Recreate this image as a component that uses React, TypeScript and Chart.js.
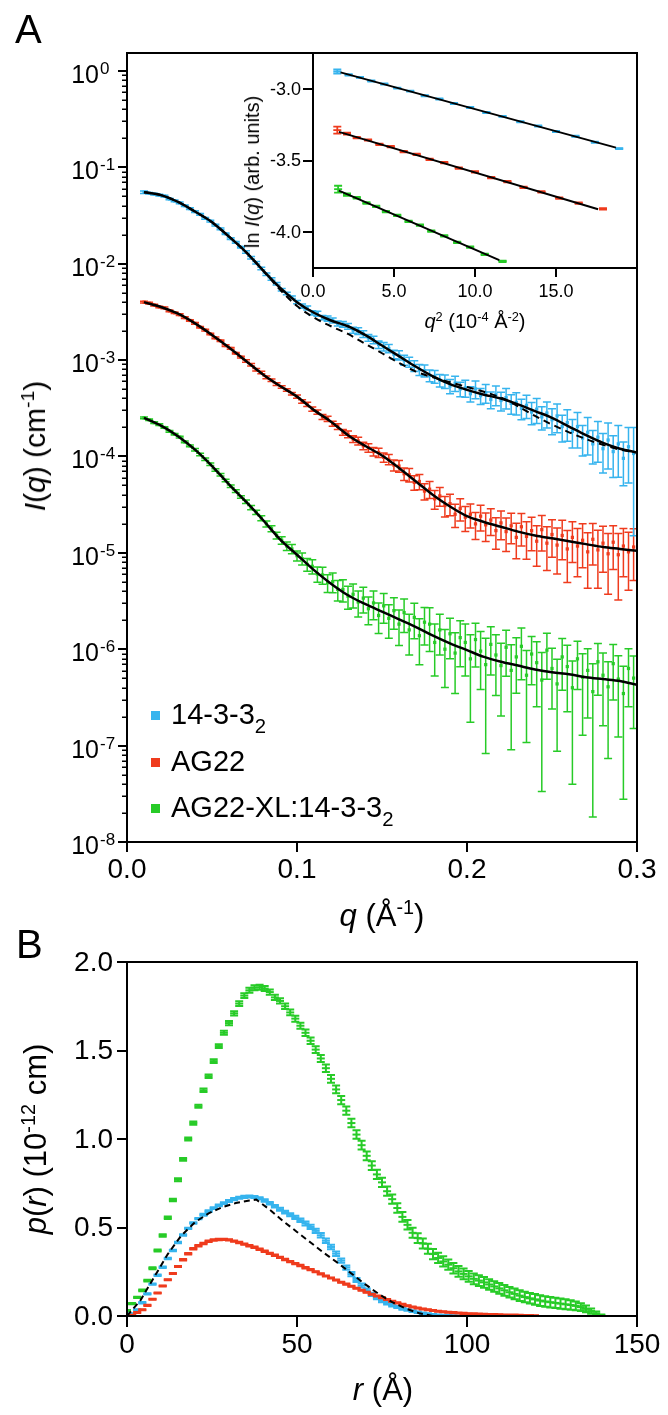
import React, { useEffect, useRef } from 'react';
import { Chart, registerables } from 'chart.js';

Chart.register(...registerables);

const FONT = '"Liberation Sans", Arial, Helvetica, sans-serif';
const BLUE = '#36B4EE';
const RED = '#EF3B1D';
const GREEN = '#27CB27';
const BLACK = '#000000';

// ---------------- Panel A : I(q), log10 values ----------------
const qA = [
  0.010, 0.013, 0.016, 0.019, 0.022, 0.025, 0.028, 0.031, 0.034, 0.037,
  0.040, 0.043, 0.046, 0.049, 0.052, 0.055, 0.058, 0.061, 0.064, 0.067,
  0.070, 0.073, 0.076, 0.079, 0.082, 0.085, 0.088, 0.091, 0.094, 0.097,
  0.100, 0.103, 0.106, 0.109, 0.112, 0.115, 0.118, 0.121, 0.124, 0.127,
  0.130, 0.133, 0.136, 0.139, 0.142, 0.145, 0.148, 0.151, 0.154, 0.157,
  0.160, 0.163, 0.166, 0.169, 0.172, 0.175, 0.178, 0.181, 0.184, 0.187,
  0.190, 0.193, 0.196, 0.199, 0.202, 0.205, 0.208, 0.211, 0.214, 0.217,
  0.220, 0.223, 0.226, 0.229, 0.232, 0.235, 0.238, 0.241, 0.244, 0.247,
  0.250, 0.253, 0.256, 0.259, 0.262, 0.265, 0.268, 0.271, 0.274, 0.277,
  0.280, 0.283, 0.286, 0.289, 0.292, 0.295, 0.298,
];
const blueLogI = [
  -1.26, -1.27, -1.28, -1.29, -1.30, -1.33, -1.35, -1.37, -1.40, -1.43,
  -1.46, -1.49, -1.53, -1.56, -1.60, -1.64, -1.69, -1.74, -1.78, -1.83,
  -1.88, -1.94, -1.99, -2.05, -2.11, -2.16, -2.21, -2.27, -2.31, -2.35,
  -2.40, -2.44, -2.46, -2.51, -2.52, -2.56, -2.57, -2.59, -2.62, -2.63,
  -2.65, -2.69, -2.70, -2.73, -2.77, -2.79, -2.84, -2.86, -2.88, -2.94,
  -2.95, -3.00, -3.02, -3.06, -3.10, -3.11, -3.16, -3.17, -3.21, -3.22,
  -3.27, -3.24, -3.30, -3.29, -3.35, -3.30, -3.37, -3.34, -3.41, -3.36,
  -3.42, -3.39, -3.45, -3.44, -3.50, -3.47, -3.54, -3.51, -3.59, -3.55,
  -3.62, -3.58, -3.69, -3.65, -3.74, -3.69, -3.81, -3.75, -3.87, -3.80,
  -3.92, -3.83, -3.95, -3.87, -4.02, -3.90, -3.97,
];
const blueRelErr = [
  0.03, 0.02, 0.02, 0.02, 0.02, 0.02, 0.02, 0.02, 0.02, 0.02,
  0.02, 0.02, 0.02, 0.02, 0.02, 0.02, 0.02, 0.02, 0.02, 0.02,
  0.03, 0.03, 0.03, 0.03, 0.03, 0.03, 0.03, 0.03, 0.03, 0.03,
  0.04, 0.05, 0.05, 0.05, 0.06, 0.05, 0.06, 0.06, 0.06, 0.07,
  0.07, 0.07, 0.08, 0.08, 0.08, 0.09, 0.09, 0.10, 0.10, 0.10,
  0.11, 0.12, 0.12, 0.13, 0.13, 0.14, 0.14, 0.15, 0.15, 0.16,
  0.17, 0.18, 0.17, 0.20, 0.18, 0.21, 0.19, 0.22, 0.20, 0.23,
  0.22, 0.24, 0.23, 0.26, 0.24, 0.27, 0.26, 0.29, 0.27, 0.30,
  0.30, 0.33, 0.31, 0.36, 0.33, 0.40, 0.35, 0.42, 0.38, 0.45,
  0.44, 0.50, 0.46, 0.55, 0.48, 0.58, 0.86,
];
const redLogI = [
  -2.40, -2.41, -2.43, -2.45, -2.46, -2.49, -2.51, -2.53, -2.56, -2.59,
  -2.62, -2.66, -2.69, -2.73, -2.77, -2.80, -2.85, -2.88, -2.93, -2.97,
  -3.01, -3.05, -3.10, -3.13, -3.18, -3.21, -3.25, -3.28, -3.31, -3.35,
  -3.38, -3.43, -3.46, -3.51, -3.54, -3.59, -3.61, -3.66, -3.69, -3.75,
  -3.77, -3.82, -3.84, -3.89, -3.91, -3.95, -3.96, -4.01, -4.03, -4.09,
  -4.10, -4.18, -4.19, -4.27, -4.26, -4.36, -4.34, -4.44, -4.41, -4.51,
  -4.49, -4.60, -4.54, -4.63, -4.60, -4.70, -4.62, -4.71, -4.66, -4.77,
  -4.69, -4.78, -4.72, -4.84, -4.73, -4.83, -4.77, -4.88, -4.76, -4.90,
  -4.81, -4.92, -4.82, -4.96, -4.84, -4.93, -4.87, -4.99, -4.86, -4.97,
  -4.90, -5.01, -4.89, -5.02, -4.93, -4.99, -4.94,
];
const redRelErr = [
  0.02, 0.02, 0.02, 0.02, 0.02, 0.02, 0.02, 0.02, 0.02, 0.02,
  0.02, 0.02, 0.02, 0.02, 0.02, 0.02, 0.02, 0.02, 0.02, 0.02,
  0.03, 0.03, 0.03, 0.03, 0.03, 0.03, 0.03, 0.03, 0.03, 0.03,
  0.04, 0.04, 0.05, 0.05, 0.05, 0.06, 0.06, 0.06, 0.07, 0.07,
  0.08, 0.08, 0.09, 0.09, 0.10, 0.10, 0.11, 0.11, 0.12, 0.13,
  0.14, 0.15, 0.16, 0.17, 0.18, 0.19, 0.20, 0.22, 0.22, 0.24,
  0.25, 0.27, 0.26, 0.29, 0.28, 0.31, 0.30, 0.33, 0.31, 0.36,
  0.33, 0.38, 0.35, 0.40, 0.37, 0.42, 0.38, 0.45, 0.40, 0.48,
  0.42, 0.50, 0.44, 0.55, 0.45, 0.52, 0.48, 0.58, 0.46, 0.60,
  0.50, 0.62, 0.48, 0.66, 0.52, 0.60, 0.55,
];
const greenLogI = [
  -3.60, -3.62, -3.65, -3.67, -3.70, -3.74, -3.77, -3.80, -3.85, -3.89,
  -3.93, -3.98, -4.03, -4.08, -4.14, -4.19, -4.25, -4.31, -4.36, -4.42,
  -4.47, -4.53, -4.58, -4.64, -4.70, -4.75, -4.82, -4.87, -4.93, -4.96,
  -5.03, -5.06, -5.12, -5.14, -5.22, -5.23, -5.31, -5.30, -5.38, -5.38,
  -5.45, -5.43, -5.51, -5.47, -5.58, -5.52, -5.65, -5.55, -5.68, -5.60,
  -5.74, -5.62, -5.80, -5.67, -5.86, -5.72, -5.74, -5.93, -5.80, -6.00,
  -5.84, -6.04, -5.88, -5.93, -6.10, -5.90, -6.02, -6.16, -5.95, -6.06,
  -6.17, -5.98, -6.22, -6.08, -5.97, -6.27, -6.05, -6.14, -6.32, -6.01,
  -6.20, -6.36, -6.08, -6.18, -6.40, -6.10, -6.29, -6.22, -6.44, -6.13,
  -6.27, -6.39, -6.15, -6.31, -6.46, -6.20, -6.30,
];
const greenRelErr = [
  0.02, 0.02, 0.02, 0.02, 0.02, 0.02, 0.02, 0.02, 0.02, 0.02,
  0.03, 0.03, 0.03, 0.03, 0.03, 0.03, 0.03, 0.03, 0.03, 0.03,
  0.04, 0.05, 0.05, 0.06, 0.07, 0.07, 0.08, 0.09, 0.10, 0.11,
  0.12, 0.14, 0.15, 0.17, 0.18, 0.20, 0.21, 0.23, 0.24, 0.26,
  0.27, 0.28, 0.30, 0.30, 0.32, 0.33, 0.35, 0.34, 0.38, 0.36,
  0.40, 0.38, 0.45, 0.40, 0.50, 0.42, 0.48, 0.55, 0.45, 0.60,
  0.45, 0.62, 0.50, 0.55, 0.78, 0.48, 0.60, 0.88, 0.52, 0.62,
  0.70, 0.50, 0.85, 0.58, 0.55, 0.80, 0.52, 0.65, 0.93, 0.50,
  0.62, 0.80, 0.55, 0.66, 0.90, 0.52, 0.75, 0.68, 0.95, 0.55,
  0.70, 0.82, 0.58, 0.75, 0.92, 0.60, 0.70,
];
const qFit = [
  0.01, 0.02, 0.03, 0.04, 0.05, 0.06, 0.07, 0.08, 0.09, 0.10,
  0.11, 0.12, 0.13, 0.14, 0.15, 0.16, 0.17, 0.18, 0.19, 0.20,
  0.21, 0.22, 0.23, 0.24, 0.25, 0.26, 0.27, 0.28, 0.29, 0.30,
];
const blueFitLogI = [
  -1.26, -1.29, -1.36, -1.46, -1.57, -1.72, -1.88, -2.07, -2.25, -2.40,
  -2.51, -2.59, -2.65, -2.74, -2.85, -2.96, -3.07, -3.17, -3.25, -3.31,
  -3.36, -3.40, -3.46, -3.53, -3.60, -3.69, -3.78, -3.86, -3.92, -3.96,
];
const blueModelLogI = [
  -1.26, -1.29, -1.36, -1.46, -1.57, -1.72, -1.88, -2.07, -2.27, -2.44,
  -2.56, -2.65, -2.73, -2.83, -2.93, -3.03, -3.12, -3.18, -3.23, -3.28,
  -3.33, -3.39, -3.48, -3.58, -3.67, -3.75, -3.82, -3.88, -3.93, -3.96,
];
const redFitLogI = [
  -2.40, -2.45, -2.52, -2.62, -2.74, -2.87, -3.01, -3.15, -3.27, -3.38,
  -3.52, -3.64, -3.78, -3.89, -3.99, -4.12, -4.26, -4.40, -4.52, -4.62,
  -4.68, -4.73, -4.78, -4.82, -4.85, -4.88, -4.91, -4.94, -4.96, -4.98,
];
const greenFitLogI = [
  -3.60, -3.68, -3.79, -3.93, -4.10, -4.29, -4.47, -4.66, -4.86, -5.02,
  -5.18, -5.32, -5.44, -5.53, -5.61, -5.69, -5.77, -5.86, -5.94, -6.01,
  -6.08, -6.13, -6.17, -6.21, -6.24, -6.26, -6.29, -6.31, -6.33, -6.37,
];
const xTicksA = [0, 0.1, 0.2, 0.3];
const xLabelsA = ['0.0', '0.1', '0.2', '0.3'];
const yExpA = [0, -1, -2, -3, -4, -5, -6, -7, -8];
const yExpLabelsA = ['0', '-1', '-2', '-3', '-4', '-5', '-6', '-7', '-8'];

// ---------------- Inset : Guinier plot ----------------
const inBlueQ2 = [1.5, 2.2, 2.9, 3.6, 4.4, 5.2, 6.0, 6.9, 7.8, 8.7, 9.7, 10.7, 11.7, 12.8, 13.9, 15.0, 16.2, 17.4, 18.9];
const inBlueLn = [-2.879, -2.902, -2.920, -2.946, -2.966, -2.995, -3.016, -3.048, -3.071, -3.103, -3.130, -3.165, -3.192, -3.230, -3.259, -3.298, -3.331, -3.372, -3.417];
const inBlueErr = [0.014, 0.005, 0.004, 0.004, 0.004, 0.004, 0.004, 0.004, 0.004, 0.004, 0.004, 0.004, 0.004, 0.004, 0.004, 0.004, 0.004, 0.004, 0.004];
const inRedQ2 = [1.5, 2.1, 2.7, 3.4, 4.1, 4.8, 5.6, 6.4, 7.2, 8.1, 9.0, 10.0, 11.0, 12.0, 13.0, 14.1, 15.2, 16.4, 17.9];
const inRedLn = [-3.288, -3.312, -3.340, -3.357, -3.387, -3.404, -3.438, -3.458, -3.492, -3.515, -3.553, -3.580, -3.620, -3.648, -3.688, -3.719, -3.762, -3.797, -3.838];
const inRedErr = [0.024, 0.007, 0.005, 0.005, 0.005, 0.005, 0.005, 0.005, 0.005, 0.005, 0.005, 0.005, 0.005, 0.005, 0.005, 0.005, 0.005, 0.005, 0.005];
const inGreenQ2 = [1.55, 2.1, 2.7, 3.3, 3.9, 4.5, 5.2, 5.9, 6.6, 7.3, 8.1, 8.9, 9.7, 10.6, 11.7];
const inGreenLn = [-3.700, -3.738, -3.760, -3.797, -3.820, -3.856, -3.883, -3.925, -3.951, -3.993, -4.026, -4.072, -4.104, -4.155, -4.203];
const inGreenErr = [0.024, 0.008, 0.006, 0.006, 0.005, 0.005, 0.005, 0.005, 0.005, 0.005, 0.005, 0.005, 0.005, 0.005, 0.005];
const inBlueFitQ2 = [1.7, 18.7];
const inBlueFitLn = [-2.885, -3.41];
const inRedFitQ2 = [1.6, 17.6];
const inRedFitLn = [-3.30, -3.84];
const inGreenFitQ2 = [1.6, 11.5];
const inGreenFitLn = [-3.71, -4.195];
const xTicksIn = [0, 5, 10, 15];
const xLabelsIn = ['0.0', '5.0', '10.0', '15.0'];
const yTicksIn = [-3.0, -3.5, -4.0];
const yLabelsIn = ['-3.0', '-3.5', '-4.0'];

// ---------------- Panel B : p(r) ----------------
const rB = [
  0, 1.5, 3, 4.5, 6, 7.5, 9, 10.5, 12, 13.5,
  15, 16.5, 18, 19.5, 21, 22.5, 24, 25.5, 27, 28.5,
  30, 31.5, 33, 34.5, 36, 37.5, 39, 40.5, 42, 43.5,
  45, 46.5, 48, 49.5, 51, 52.5, 54, 55.5, 57, 58.5,
  60, 61.5, 63, 64.5, 66, 67.5, 69, 70.5, 72, 73.5,
  75, 76.5, 78, 79.5, 81, 82.5, 84, 85.5, 87, 88.5,
  90, 91.5, 93, 94.5, 96, 97.5, 99, 100.5, 102, 103.5,
  105, 106.5, 108, 109.5, 111, 112.5, 114, 115.5, 117, 118.5,
  120, 121.5, 123, 124.5, 126, 127.5, 129, 130.5, 132, 133.5,
  135, 136.5, 138, 139.5,
];
const greenPr = [
  0.030, 0.070, 0.105, 0.145, 0.200, 0.270, 0.370, 0.455, 0.555, 0.655,
  0.770, 0.885, 1.000, 1.090, 1.185, 1.275, 1.355, 1.440, 1.525, 1.600,
  1.655, 1.710, 1.765, 1.810, 1.840, 1.855, 1.857, 1.850, 1.830, 1.800,
  1.780, 1.750, 1.715, 1.680, 1.640, 1.600, 1.555, 1.505, 1.455, 1.400,
  1.340, 1.280, 1.220, 1.160, 1.090, 1.025, 0.965, 0.905, 0.850, 0.800,
  0.755, 0.705, 0.660, 0.610, 0.560, 0.515, 0.470, 0.440, 0.410, 0.380,
  0.350, 0.328, 0.308, 0.290, 0.270, 0.252, 0.238, 0.224, 0.210, 0.200,
  0.190, 0.178, 0.167, 0.156, 0.145, 0.134, 0.125, 0.115, 0.107, 0.100,
  0.094, 0.087, 0.082, 0.078, 0.074, 0.070, 0.066, 0.062, 0.057, 0.050,
  0.040, 0.028, 0.015, 0.004,
];
const greenPrErr = [
  0.004, 0.004, 0.004, 0.005, 0.005, 0.006, 0.006, 0.007, 0.007, 0.007,
  0.008, 0.008, 0.009, 0.009, 0.009, 0.010, 0.010, 0.011, 0.011, 0.011,
  0.012, 0.012, 0.013, 0.013, 0.014, 0.014, 0.014, 0.014, 0.015, 0.015,
  0.015, 0.016, 0.016, 0.017, 0.017, 0.018, 0.018, 0.019, 0.020, 0.021,
  0.022, 0.022, 0.023, 0.023, 0.024, 0.024, 0.025, 0.025, 0.025, 0.026,
  0.026, 0.026, 0.026, 0.027, 0.027, 0.027, 0.028, 0.028, 0.028, 0.028,
  0.029, 0.029, 0.029, 0.029, 0.030, 0.030, 0.030, 0.030, 0.030, 0.030,
  0.030, 0.030, 0.030, 0.030, 0.030, 0.030, 0.030, 0.030, 0.030, 0.030,
  0.030, 0.030, 0.030, 0.030, 0.029, 0.029, 0.028, 0.027, 0.025, 0.022,
  0.019, 0.015, 0.010, 0.005,
];
const bluePr = [
  0.002, 0.012, 0.035, 0.075, 0.125, 0.180, 0.230, 0.275, 0.325, 0.370,
  0.415, 0.458, 0.495, 0.525, 0.550, 0.572, 0.592, 0.609, 0.625, 0.638,
  0.650, 0.660, 0.668, 0.673, 0.675, 0.672, 0.665, 0.652, 0.637, 0.620,
  0.603, 0.587, 0.572, 0.557, 0.541, 0.523, 0.503, 0.481, 0.456, 0.425,
  0.390, 0.352, 0.313, 0.274, 0.237, 0.203, 0.172, 0.145, 0.122, 0.102,
  0.086, 0.072, 0.061, 0.051, 0.042, 0.034, 0.027, 0.021, 0.016, 0.012,
  0.009, 0.006, 0.004, 0.002, 0.001, 0.000,
];
const bluePrErr = [
  0.003, 0.003, 0.003, 0.004, 0.004, 0.004, 0.004, 0.004, 0.004, 0.004,
  0.004, 0.004, 0.004, 0.004, 0.004, 0.005, 0.005, 0.005, 0.005, 0.005,
  0.006, 0.006, 0.006, 0.006, 0.006, 0.006, 0.006, 0.007, 0.007, 0.007,
  0.008, 0.008, 0.009, 0.009, 0.010, 0.011, 0.012, 0.012, 0.013, 0.013,
  0.013, 0.013, 0.012, 0.012, 0.012, 0.011, 0.011, 0.010, 0.009, 0.008,
  0.008, 0.007, 0.007, 0.006, 0.006, 0.005, 0.005, 0.004, 0.004, 0.004,
  0.003, 0.003, 0.003, 0.003, 0.003, 0.003,
];
const redPr = [
  0.000, 0.005, 0.020, 0.035, 0.060, 0.095, 0.130, 0.170, 0.205, 0.240,
  0.280, 0.318, 0.352, 0.380, 0.397, 0.410, 0.422, 0.429, 0.432, 0.433,
  0.430, 0.423, 0.415, 0.406, 0.397, 0.388, 0.377, 0.366, 0.354, 0.343,
  0.331, 0.319, 0.307, 0.296, 0.285, 0.273, 0.262, 0.250, 0.238, 0.226,
  0.215, 0.203, 0.191, 0.180, 0.168, 0.157, 0.146, 0.134, 0.123, 0.113,
  0.103, 0.093, 0.083, 0.074, 0.066, 0.058, 0.051, 0.045, 0.040, 0.035,
  0.031, 0.027, 0.024, 0.021, 0.019, 0.017, 0.015, 0.013, 0.012, 0.011,
  0.010, 0.009, 0.008, 0.007, 0.006, 0.005, 0.005, 0.004, 0.003, 0.002,
  0.001,
];
const redPrErr = [
  0.002, 0.002, 0.003, 0.003, 0.003, 0.003, 0.003, 0.003, 0.003, 0.003,
  0.003, 0.004, 0.004, 0.004, 0.004, 0.004, 0.004, 0.004, 0.004, 0.004,
  0.004, 0.004, 0.004, 0.004, 0.004, 0.004, 0.004, 0.004, 0.004, 0.004,
  0.004, 0.004, 0.004, 0.004, 0.004, 0.004, 0.004, 0.003, 0.003, 0.003,
  0.003, 0.003, 0.003, 0.003, 0.003, 0.003, 0.003, 0.003, 0.003, 0.003,
  0.003, 0.003, 0.003, 0.003, 0.003, 0.003, 0.003, 0.003, 0.003, 0.003,
  0.003, 0.003, 0.003, 0.003, 0.003, 0.003, 0.003, 0.003, 0.003, 0.003,
  0.003, 0.003, 0.003, 0.003, 0.003, 0.003, 0.003, 0.003, 0.003, 0.003,
  0.003,
];
const rModel = [0, 4, 8, 12, 16, 20, 24, 28, 32, 36, 38, 42, 46, 50, 54, 58, 62, 66, 70, 74, 78, 82, 86, 90];
const pModel = [0, 0.09, 0.22, 0.35, 0.455, 0.53, 0.58, 0.615, 0.638, 0.652, 0.658, 0.60, 0.535, 0.475, 0.415, 0.355, 0.30, 0.24, 0.18, 0.125, 0.078, 0.042, 0.015, 0];
const xTicksB = [0, 50, 100, 150];
const xLabelsB = ['0', '50', '100', '150'];
const yTicksB = [0, 0.5, 1.0, 1.5, 2.0];
const yLabelsB = ['0.0', '0.5', '1.0', '1.5', '2.0'];

// ---------------- plugins ----------------
const errorBarPlugin = {
  id: 'errorBars',
  beforeDatasetDraw(chart: any, args: any) {
    const ds: any = chart.data.datasets[args.index];
    if (!ds.errLo) return;
    const xs = chart.scales.x;
    const ys = chart.scales.y;
    const a = chart.chartArea;
    const ctx = chart.ctx;
    const cw = (ds.capWidth || 8) / 2;
    ctx.save();
    ctx.beginPath();
    ctx.rect(a.left, a.top, a.right - a.left, a.bottom - a.top);
    ctx.clip();
    ctx.strokeStyle = ds.borderColor;
    ctx.lineWidth = ds.errWidth || 1.5;
    ctx.beginPath();
    ds.data.forEach((pt: any, i: number) => {
      const x = xs.getPixelForValue(pt.x);
      const lo = ys.getPixelForValue(ds.errLo[i]);
      const hi = ys.getPixelForValue(ds.errHi[i]);
      ctx.moveTo(x, lo);
      ctx.lineTo(x, hi);
      ctx.moveTo(x - cw, lo);
      ctx.lineTo(x + cw, lo);
      ctx.moveTo(x - cw, hi);
      ctx.lineTo(x + cw, hi);
    });
    ctx.stroke();
    ctx.restore();
  },
};

interface Deco {
  bg?: boolean;
  xTicks: number[];
  xLabels: string[];
  xLen: number;
  xFont: number;
  xBase: number;
  yTicks: number[];
  yLabels?: string[];
  yExpLabels?: string[];
  yLen: number;
  yFont: number;
  yGap: number;
  supFont?: number;
  yMinor?: number[];
  yMinorLen?: number;
}

function decoPlugin(d: Deco) {
  return {
    id: 'deco',
    beforeDatasetsDraw(chart: any) {
      if (!d.bg) return;
      const a = chart.chartArea;
      const ctx = chart.ctx;
      ctx.save();
      ctx.fillStyle = '#ffffff';
      ctx.fillRect(a.left, a.top, a.right - a.left, a.bottom - a.top);
      ctx.restore();
    },
    afterDatasetsDraw(chart: any) {
      const a = chart.chartArea;
      const ctx = chart.ctx;
      const xs = chart.scales.x;
      const ys = chart.scales.y;
      ctx.save();
      ctx.strokeStyle = BLACK;
      ctx.fillStyle = BLACK;
      ctx.lineWidth = 2;
      ctx.strokeRect(a.left, a.top, a.right - a.left, a.bottom - a.top);
      ctx.beginPath();
      d.xTicks.forEach((v) => {
        const x = Math.round(xs.getPixelForValue(v));
        ctx.moveTo(x, a.bottom);
        ctx.lineTo(x, a.bottom + d.xLen);
      });
      d.yTicks.forEach((v) => {
        const y = Math.round(ys.getPixelForValue(v));
        ctx.moveTo(a.left - d.yLen, y);
        ctx.lineTo(a.left, y);
      });
      ctx.stroke();
      if (d.yMinor) {
        ctx.lineWidth = 1.5;
        ctx.beginPath();
        d.yMinor.forEach((v) => {
          const y = Math.round(ys.getPixelForValue(v)) + 0.25;
          ctx.moveTo(a.left - (d.yMinorLen || 5), y);
          ctx.lineTo(a.left, y);
        });
        ctx.stroke();
      }
      ctx.font = `${d.xFont}px ${FONT}`;
      ctx.textAlign = 'center';
      ctx.textBaseline = 'alphabetic';
      d.xTicks.forEach((v, i) => {
        ctx.fillText(d.xLabels[i], xs.getPixelForValue(v), a.bottom + d.xBase);
      });
      if (d.yExpLabels) {
        d.yTicks.forEach((v, i) => {
          const y = ys.getPixelForValue(v);
          ctx.font = `${d.yFont}px ${FONT}`;
          ctx.textAlign = 'right';
          ctx.textBaseline = 'alphabetic';
          ctx.fillText('10', a.left - d.yGap, y + 12);
          ctx.font = `${d.supFont}px ${FONT}`;
          ctx.textAlign = 'left';
          ctx.fillText(d.yExpLabels![i], a.left - d.yGap + 1, y + 3);
        });
      } else if (d.yLabels) {
        ctx.font = `${d.yFont}px ${FONT}`;
        ctx.textAlign = 'right';
        ctx.textBaseline = 'middle';
        d.yTicks.forEach((v, i) => {
          ctx.fillText(d.yLabels![i], a.left - d.yGap, ys.getPixelForValue(v) + 1);
        });
      }
      ctx.restore();
    },
  };
}

// ---------------- dataset builders ----------------
function logErrSet(logs: number[], rel: number[], color: string, order: number) {
  const data = qA.map((q, i) => ({ x: q, y: Math.pow(10, logs[i]) }));
  return {
    data,
    errLo: data.map((p, i) => p.y * (1 - rel[i])),
    errHi: data.map((p, i) => p.y * (1 + rel[i])),
    capWidth: 8,
    errWidth: 1.5,
    borderColor: color,
    backgroundColor: color,
    pointBackgroundColor: color,
    pointBorderColor: color,
    pointStyle: 'rect',
    pointRadius: 2.3,
    pointBorderWidth: 0,
    showLine: false,
    order,
  };
}

function fitSet(xs: number[], ys: number[], dash: number[] | undefined, width: number, order: number, tension = true) {
  return {
    data: xs.map((x, i) => ({ x, y: ys[i] })),
    borderColor: BLACK,
    backgroundColor: BLACK,
    borderWidth: width,
    borderDash: dash || [],
    pointRadius: 0,
    showLine: true,
    cubicInterpolationMode: tension ? 'monotone' : 'default',
    tension: 0,
    order,
  };
}

function linErrSet(xs: number[], ys: number[], err: number[], color: string, cap: number, width: number, order: number) {
  const data = ys.map((y, i) => ({ x: xs[i], y }));
  return {
    data,
    errLo: data.map((p, i) => p.y - err[i]),
    errHi: data.map((p, i) => p.y + err[i]),
    capWidth: cap,
    errWidth: width,
    borderColor: color,
    backgroundColor: color,
    pointBackgroundColor: color,
    pointBorderColor: color,
    pointStyle: 'line',
    pointRadius: cap / 2,
    pointBorderWidth: width,
    showLine: false,
    order,
  };
}

const baseOptions = (pad: any, xr: number[], yr: number[], yLog = false): any => ({
  responsive: false,
  animation: false,
  devicePixelRatio: 1,
  events: [],
  layout: { padding: pad },
  plugins: { legend: { display: false }, tooltip: { enabled: false }, title: { display: false } },
  scales: {
    x: { type: 'linear', min: xr[0], max: xr[1], display: false },
    y: { type: yLog ? 'logarithmic' : 'linear', min: yr[0], max: yr[1], display: false },
  },
});

// ---------------- text helpers ----------------
const Sup = ({ children }: any) => (
  <span style={{ fontSize: '0.64em', position: 'relative', top: '-0.58em' }}>{children}</span>
);
const Sub = ({ children }: any) => (
  <span style={{ fontSize: '0.7em', position: 'relative', top: '0.4em' }}>{children}</span>
);

function Txt({ x, y, size, center, children }: any) {
  return (
    <div
      style={{
        position: 'absolute',
        left: x,
        top: y - 0.8465 * size,
        fontSize: size,
        lineHeight: `${size}px`,
        whiteSpace: 'nowrap',
        transform: center ? 'translateX(-50%)' : undefined,
      }}
    >
      {children}
    </div>
  );
}

function VTxt({ cx, cy, size, children }: any) {
  return (
    <div
      style={{
        position: 'absolute',
        left: cx,
        top: cy,
        fontSize: size,
        lineHeight: `${size}px`,
        whiteSpace: 'nowrap',
        transform: 'translate(-50%, -50%) rotate(-90deg)',
      }}
    >
      {children}
    </div>
  );
}

export default function App() {
  const refA = useRef<HTMLCanvasElement>(null);
  const refI = useRef<HTMLCanvasElement>(null);
  const refB = useRef<HTMLCanvasElement>(null);

  useEffect(() => {
    const minorA: number[] = [];
    for (let e = -8; e < 0; e++) {
      for (let m = 2; m <= 9; m++) minorA.push(m * Math.pow(10, e));
    }

    const chartA = new Chart(refA.current as HTMLCanvasElement, {
      type: 'scatter',
      data: {
        datasets: [
          fitSet(qFit, blueFitLogI.map((v) => Math.pow(10, v)), undefined, 2.5, 0),
          fitSet(qFit, blueModelLogI.map((v) => Math.pow(10, v)), [7, 5], 2, 0),
          fitSet(qFit, redFitLogI.map((v) => Math.pow(10, v)), undefined, 2.5, 0),
          fitSet(qFit, greenFitLogI.map((v) => Math.pow(10, v)), undefined, 2.5, 0),
          logErrSet(blueLogI, blueRelErr, BLUE, 1),
          logErrSet(redLogI, redRelErr, RED, 2),
          logErrSet(greenLogI, greenRelErr, GREEN, 3),
        ] as any,
      },
      options: baseOptions({ left: 127, top: 53, right: 31, bottom: 58 }, [0, 0.3], [1e-8, 1.53], true),
      plugins: [
        errorBarPlugin,
        decoPlugin({
          xTicks: xTicksA,
          xLabels: xLabelsA,
          xLen: 10,
          xFont: 28,
          xBase: 36,
          yTicks: yExpA.map((e) => Math.pow(10, e)),
          yExpLabels: yExpLabelsA,
          yLen: 9,
          yFont: 25,
          supFont: 17,
          yGap: 28,
          yMinor: minorA,
          yMinorLen: 5,
        }),
      ] as any,
    });

    const chartI = new Chart(refI.current as HTMLCanvasElement, {
      type: 'scatter',
      data: {
        datasets: [
          fitSet(inBlueFitQ2, inBlueFitLn, undefined, 2, 0, false),
          fitSet(inRedFitQ2, inRedFitLn, undefined, 2, 0, false),
          fitSet(inGreenFitQ2, inGreenFitLn, undefined, 2, 0, false),
          linErrSet(inBlueQ2, inBlueLn, inBlueErr, BLUE, 8, 1.8, 1),
          linErrSet(inRedQ2, inRedLn, inRedErr, RED, 8, 1.8, 1),
          linErrSet(inGreenQ2, inGreenLn, inGreenErr, GREEN, 8, 1.8, 1),
        ] as any,
      },
      options: baseOptions({ left: 313, top: 53, right: 31, bottom: 52 }, [0, 20], [-4.25, -2.75]),
      plugins: [
        errorBarPlugin,
        decoPlugin({
          bg: true,
          xTicks: xTicksIn,
          xLabels: xLabelsIn,
          xLen: 9,
          xFont: 18,
          xBase: 29,
          yTicks: yTicksIn,
          yLabels: yLabelsIn,
          yLen: 10,
          yFont: 18,
          yGap: 12,
        }),
      ] as any,
    });

    const chartB = new Chart(refB.current as HTMLCanvasElement, {
      type: 'scatter',
      data: {
        datasets: [
          fitSet(rModel, pModel, [6, 4], 2, 0, false),
          linErrSet(rB.slice(0, redPr.length), redPr, redPrErr, RED, 8, 2, 1),
          linErrSet(rB.slice(0, bluePr.length), bluePr, bluePrErr, BLUE, 8, 2, 2),
          linErrSet(rB, greenPr, greenPrErr, GREEN, 8, 2, 3),
        ] as any,
      },
      options: baseOptions({ left: 127, top: 22, right: 31, bottom: 99 }, [0, 150], [0, 2]),
      plugins: [
        errorBarPlugin,
        decoPlugin({
          xTicks: xTicksB,
          xLabels: xLabelsB,
          xLen: 11,
          xFont: 28,
          xBase: 37,
          yTicks: yTicksB,
          yLabels: yLabelsB,
          yLen: 10,
          yFont: 28,
          yGap: 14,
        }),
      ] as any,
    });

    return () => {
      chartA.destroy();
      chartI.destroy();
      chartB.destroy();
    };
  }, []);

  const sq = (top: number, color: string) => (
    <div style={{ position: 'absolute', left: 151, top, width: 9, height: 9, background: color }} />
  );

  return (
    <div
      style={{
        position: 'absolute',
        left: 0,
        top: 0,
        width: 668,
        height: 1415,
        background: '#ffffff',
        overflow: 'hidden',
        fontFamily: FONT,
        color: '#000',
      }}
    >
      <canvas ref={refA} width={668} height={900} style={{ position: 'absolute', left: 0, top: 0 }} />
      <canvas ref={refI} width={668} height={320} style={{ position: 'absolute', left: 0, top: 0 }} />
      <canvas ref={refB} width={668} height={475} style={{ position: 'absolute', left: 0, top: 940 }} />

      <Txt x={15} y={43} size={40}>A</Txt>
      <Txt x={16} y={958} size={40}>B</Txt>

      <VTxt cx={37} cy={446} size={30}>
        <i>I</i>(<i>q</i>) (cm<Sup>-1</Sup>)
      </VTxt>
      <Txt x={382} y={926} size={31} center>
        <i>q</i> (Å<Sup>-1</Sup>)
      </Txt>

      <VTxt cx={252} cy={172} size={20}>
        ln <i>I</i>(<i>q</i>) (arb. units)
      </VTxt>
      <Txt x={475} y={328} size={20} center>
        <i>q</i><Sup>2</Sup> (10<Sup>-4</Sup> Å<Sup>-2</Sup>)
      </Txt>

      {sq(711, BLUE)}
      {sq(758, RED)}
      {sq(804, GREEN)}
      <Txt x={171} y={725} size={29}>
        14-3-3<Sub>2</Sub>
      </Txt>
      <Txt x={171} y={771.5} size={29}>
        AG22
      </Txt>
      <Txt x={171} y={818} size={29}>
        AG22-XL:14-3-3<Sub>2</Sub>
      </Txt>

      <VTxt cx={37} cy={1139} size={31}>
        <i>p</i>(<i>r</i>) (10<Sup>-12</Sup> cm)
      </VTxt>
      <Txt x={383} y={1400} size={31} center>
        <i>r</i> (Å)
      </Txt>
    </div>
  );
}
